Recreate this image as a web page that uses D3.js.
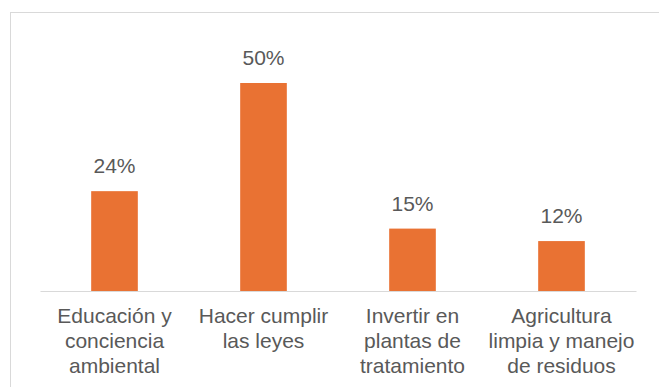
<!DOCTYPE html>
<html>
<head>
<meta charset="utf-8">
<script src="https://cdn.jsdelivr.net/npm/d3@7"></script>
<style>
  html, body { margin: 0; padding: 0; background: #fff; }
  svg { display: block; }
</style>
</head>
<body>
<svg id="chart" width="659" height="387"></svg>
<script>
// Category names (line breaks as they wrap under each bar)
const categories = [
  "Educación y\nconciencia\nambiental",
  "Hacer cumplir\nlas leyes",
  "Invertir en\nplantas de\ntratamiento",
  "Agricultura\nlimpia y manejo\nde residuos"
];
// Share of responses per category
const values = [0.24, 0.50, 0.15, 0.12];

const W = 659, H = 387;
const svg = d3.select("#chart");
const font = "'Liberation Sans', Arial, sans-serif";
const textColor = "#595959";

// Chart frame
svg.append("rect")
  .attr("x", 10.5).attr("y", 12.5)
  .attr("width", 700).attr("height", 500)
  .attr("fill", "#fff")
  .attr("stroke", "#d9d9d9")
  .attr("stroke-width", 1);

const plot = { left: 40, right: 636, top: 41.4, bottom: 291 };

const x = d3.scaleBand()
  .domain(categories)
  .range([plot.left, plot.right])
  .paddingInner(0.687)
  .paddingOuter(0.3435);

const y = d3.scaleLinear()
  .domain([0, 0.6])
  .range([plot.bottom, plot.top]);

const data = categories.map((c, i) => ({ c, v: values[i] }));

// Bars
svg.append("g").selectAll("rect")
  .data(data)
  .join("rect")
  .attr("x", d => x(d.c))
  .attr("y", d => y(d.v))
  .attr("width", x.bandwidth())
  .attr("height", d => y(0) - y(d.v))
  .attr("fill", "#E97233");

// Value labels
svg.append("g").selectAll("text")
  .data(data)
  .join("text")
  .attr("x", d => x(d.c) + x.bandwidth() / 2)
  .attr("y", d => y(d.v) - 18)
  .attr("text-anchor", "middle")
  .attr("font-family", font)
  .attr("font-size", 21)
  .attr("fill", textColor)
  .text(d => d3.format(".0%")(d.v));

// Category axis
const axis = svg.append("g")
  .attr("transform", `translate(0,${plot.bottom})`)
  .call(d3.axisBottom(x).tickSize(0).tickFormat(""));
axis.select(".domain").attr("stroke", "#d9d9d9").attr("stroke-width", 1.2);

// Wrapped category labels
const labels = svg.append("g").selectAll("text")
  .data(categories)
  .join("text")
  .attr("x", d => x(d) + x.bandwidth() / 2)
  .attr("y", plot.bottom + 32)
  .attr("text-anchor", "middle")
  .attr("font-family", font)
  .attr("font-size", 21)
  .attr("fill", textColor);

labels.selectAll("tspan")
  .data(d => d.split("\n"))
  .join("tspan")
  .attr("x", function () { return this.parentNode.getAttribute("x"); })
  .attr("dy", (d, i) => i === 0 ? 0 : 25)
  .text(d => d);
</script>
</body>
</html>
